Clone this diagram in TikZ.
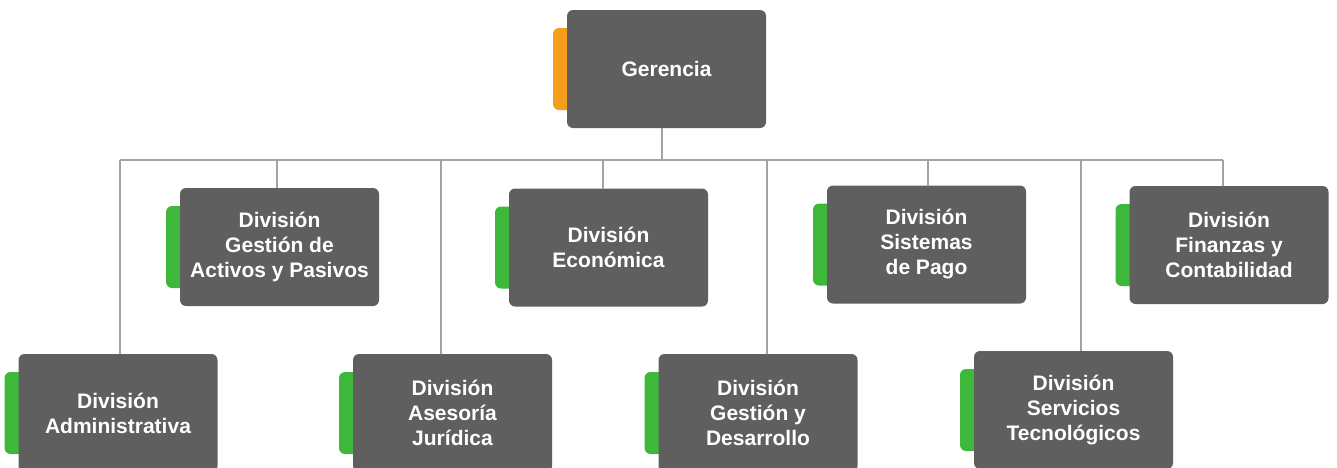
\documentclass[tikz,border=0pt]{standalone}
\usepackage{fontspec}
\setmainfont{Liberation Sans}
\usetikzlibrary{positioning,backgrounds}
\definecolor{boxgray}{HTML}{5F5F5F}
\definecolor{tabgreen}{HTML}{3DB83A}
\definecolor{taborange}{HTML}{F59E1B}
\definecolor{linegray}{HTML}{A3A3A3}

\begin{document}
\begin{tikzpicture}[x=1pt,y=-1pt,
	unit/.style={minimum width=199pt,minimum height=118pt,outer sep=0pt,inner sep=2pt,rounded corners=6pt,fill=boxgray,text=white,align=center,font=\bfseries\fontsize{21}{25}\selectfont},
	tab/.style={minimum width=24pt,minimum height=82pt,outer sep=0pt,inner sep=0pt,rounded corners=6pt,fill=tabgreen},
	conn/.style={draw=linegray,line width=1.3pt}]
	\useasboundingbox (0,0) rectangle (1337,467);
	\clip (0,0) rectangle (1337,467);

	\node [unit] at (666.5,69) (ger) {Gerencia};

	\node [unit] at (279.5,247) (act) {División\\Gestión de\\Activos y Pasivos};
	\node [unit] at (608.5,247.5) (eco) {División\\Económica};
	\node [unit] at (926.5,244.5) (sis) {División\\Sistemas\\de Pago};
	\node [unit] at (1229,245) (fin) {División\\Finanzas y\\Contabilidad};

	\node [unit] at (118,413) (adm) {División\\Administrativa};
	\node [unit] at (452.5,413) (jur) {División\\Asesoría\\Jurídica};
	\node [unit] at (758,413) (gyd) {División\\Gestión y\\Desarrollo};
	\node [unit] at (1073.5,410) (ser) {División\\Servicios\\Tecnológicos};

	\begin{scope}[on background layer]
		\node [tab,fill=taborange,left=-10pt of ger] (ger_tab) {};
		\node [tab,left=-10pt of act] (act_tab) {};
		\node [tab,left=-10pt of eco] (eco_tab) {};
		\node [tab,left=-10pt of sis] (sis_tab) {};
		\node [tab,left=-10pt of fin] (fin_tab) {};
		\node [tab,left=-10pt of adm] (adm_tab) {};
		\node [tab,left=-10pt of jur] (jur_tab) {};
		\node [tab,left=-10pt of gyd] (gyd_tab) {};
		\node [tab,left=-10pt of ser] (ser_tab) {};
	\end{scope}

	\coordinate (dAdm) at (120,160);
	\coordinate (dAct) at (277,160);
	\coordinate (dJur) at (441,160);
	\coordinate (dEco) at (603,160);
	\coordinate (dGer) at (662,160);
	\coordinate (dGyd) at (767,160);
	\coordinate (dSis) at (928,160);
	\coordinate (dSer) at (1081,160);
	\coordinate (dFin) at (1223,160);

	\draw[conn] (dAdm) -- (dFin);
	\draw[conn] (ger.south -| dGer) -- (dGer);
	\draw[conn] (dAct) -- (dAct |- act.north);
	\draw[conn] (dEco) -- (dEco |- eco.north);
	\draw[conn] (dSis) -- (dSis |- sis.north);
	\draw[conn] (dFin) -- (dFin |- fin.north);
	\draw[conn] (dAdm) -- (dAdm |- adm.north);
	\draw[conn] (dJur) -- (dJur |- jur.north);
	\draw[conn] (dGyd) -- (dGyd |- gyd.north);
	\draw[conn] (dSer) -- (dSer |- ser.north);
\end{tikzpicture}
\end{document}
